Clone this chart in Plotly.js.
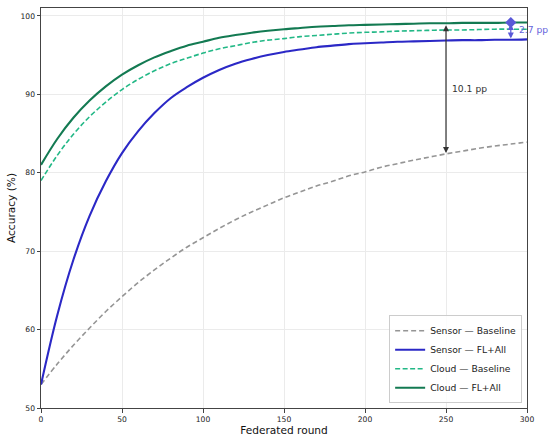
<!DOCTYPE html>
<html>
<head>
<meta charset="utf-8">
<script src="https://cdn.plot.ly/plotly-3.0.1.min.js"></script>
<style>html,body{margin:0;padding:0;background:#fff;}#chart{width:550px;height:441px;}</style>
</head>
<body>
<div id="chart"></div>
<script>
var rounds = [0,10,20,30,40,50,60,70,80,90,100,110,120,130,140,150,160,170,180,190,200,210,220,230,240,250,260,270,280,290,300];
var sensorBaseline = [53.0,55.6,58.0,60.2,62.3,64.2,66.0,67.6,69.1,70.5,71.7,72.9,74.0,75.0,75.9,76.8,77.55,78.3,78.9,79.6,80.1,80.7,81.15,81.6,82.0,82.4,82.75,83.1,83.4,83.65,83.9];
var sensorFL = [53.0,61.8,68.9,74.5,78.9,82.5,85.3,87.6,89.5,90.9,92.1,93.1,93.9,94.5,95.0,95.4,95.7,96.0,96.2,96.4,96.5,96.6,96.7,96.75,96.8,96.85,96.9,96.9,96.95,96.95,97.0];
var cloudBaseline = [79.0,82.2,84.9,87.15,89.0,90.6,91.9,93.0,93.9,94.6,95.25,95.8,96.2,96.6,96.9,97.1,97.35,97.5,97.65,97.8,97.9,97.95,98.05,98.1,98.15,98.2,98.2,98.25,98.3,98.3,98.3];
var cloudFL = [81.0,84.3,87.0,89.2,91.0,92.5,93.7,94.7,95.5,96.2,96.7,97.2,97.55,97.85,98.1,98.3,98.45,98.6,98.7,98.8,98.85,98.9,98.95,99.0,99.05,99.05,99.1,99.1,99.1,99.15,99.15];
var seriesNames = ["Sensor — Baseline","Sensor — FL+All","Cloud — Baseline","Cloud — FL+All"];
var gapBig = {x: 250, top: 99.0, bottom: 82.5, label: "10.1 pp", labelX: 252.5, labelY: 90.7};
var gapSmall = {x: 290, top: 99.15, bottom: 97.1, label: "2.7 pp", labelX: 294, labelY: 98.2};
var xTicks = [0,50,100,150,200,250,300];
var yTicks = [50,60,70,80,90,100];

var font = "DejaVu Sans, sans-serif";
var traces = [
  {x: rounds, y: sensorBaseline, name: seriesNames[0], mode: "lines", line: {color: "#959595", width: 1.6, dash: "5px,3px", shape: "spline"}},
  {x: rounds, y: sensorFL, name: seriesNames[1], mode: "lines", line: {color: "#2b28c6", width: 2.1, shape: "spline"}},
  {x: rounds, y: cloudBaseline, name: seriesNames[2], mode: "lines", line: {color: "#22b886", width: 1.6, dash: "5px,2.5px", shape: "spline"}},
  {x: rounds, y: cloudFL, name: seriesNames[3], mode: "lines", line: {color: "#137a52", width: 2.1, shape: "spline"}},
  {x: [gapSmall.x], y: [gapSmall.top], mode: "markers", showlegend: false, hoverinfo: "skip",
   marker: {symbol: "diamond", size: 8.5, color: "#5a58d8"}, cliponaxis: false}
];

var layout = {
  width: 550, height: 441,
  margin: {l: 41, r: 23, t: 8, b: 33},
  paper_bgcolor: "#fff", plot_bgcolor: "#fff",
  font: {family: font, size: 9, color: "#222"},
  showlegend: true,
  legend: {x: 0.99, y: 0.012, xanchor: "right", yanchor: "bottom",
           bgcolor: "rgba(255,255,255,0.85)", bordercolor: "#cccccc", borderwidth: 1,
           font: {family: font, size: 9.2, color: "#222"}, tracegroupgap: 0, itemwidth: 30},
  xaxis: {range: [0, 300], tickvals: xTicks, ticktext: xTicks.map(String),
          showgrid: true, gridcolor: "#ebebeb", gridwidth: 1, zeroline: false,
          showline: true, linecolor: "#444", linewidth: 1, mirror: true,
          ticks: "outside", ticklen: 3.5, tickcolor: "#444",
          tickfont: {family: font, size: 7.6, color: "#222"},
          title: {text: "Federated round", font: {family: font, size: 10.6, color: "#111"}, standoff: 0}},
  yaxis: {range: [50, 101], tickvals: yTicks, ticktext: yTicks.map(String),
          showgrid: true, gridcolor: "#ebebeb", gridwidth: 1, zeroline: false,
          showline: true, linecolor: "#444", linewidth: 1, mirror: true,
          ticks: "outside", ticklen: 3.5, tickcolor: "#444",
          tickfont: {family: font, size: 7.6, color: "#222"},
          title: {text: "Accuracy (%)", font: {family: font, size: 10.6, color: "#111"}, standoff: 2}},
  annotations: [
    {x: gapBig.x, y: gapBig.bottom, ax: gapBig.x, ay: gapBig.top, xref: "x", yref: "y", axref: "x", ayref: "y",
     text: "", showarrow: true, arrowhead: 2, arrowside: "end+start", arrowsize: 1, arrowwidth: 1.2, arrowcolor: "#333", standoff: 0, startstandoff: 0},
    {x: gapBig.labelX, y: gapBig.labelY, xref: "x", yref: "y", text: gapBig.label, showarrow: false,
     xanchor: "left", yanchor: "middle", font: {family: font, size: 9.2, color: "#333"}},
    {x: gapSmall.x, y: gapSmall.bottom, ax: gapSmall.x, ay: gapSmall.top, xref: "x", yref: "y", axref: "x", ayref: "y",
     text: "", showarrow: true, arrowhead: 2, arrowside: "end+start", arrowsize: 1, arrowwidth: 1.2, arrowcolor: "#5a58d8", standoff: 0, startstandoff: 0},
    {x: gapSmall.labelX, y: gapSmall.labelY, xref: "x", yref: "y", text: gapSmall.label, showarrow: false,
     xanchor: "left", yanchor: "middle", font: {family: font, size: 9.2, color: "#6664dc"}}
  ]
};
Plotly.newPlot("chart", traces, layout, {displayModeBar: false, staticPlot: true});
</script>
</body>
</html>
